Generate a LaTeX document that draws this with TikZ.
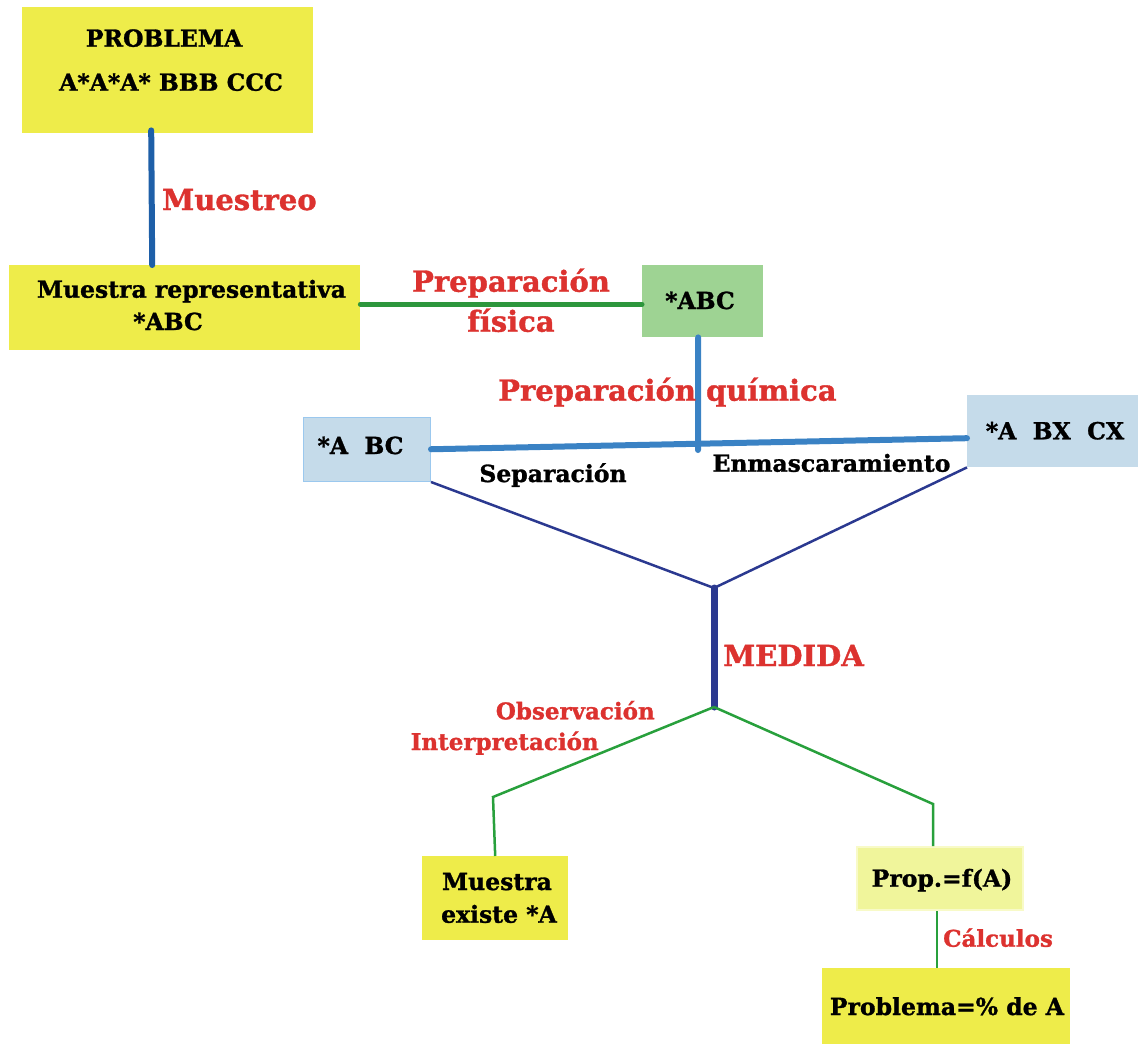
\documentclass[tikz,border=0pt]{standalone}
\usepackage{fontspec}
\setmainfont{DejaVu Serif}[BoldFeatures={FakeBold=1.2}]
\definecolor{cyel}{RGB}{238,236,74}
\definecolor{clightyel}{RGB}{240,245,155}
\definecolor{cpropborder}{RGB}{248,250,200}
\definecolor{cgreenbox}{RGB}{158,211,147}
\definecolor{cbluebox}{RGB}{197,219,234}
\definecolor{cblueborder}{RGB}{155,200,238}
\definecolor{cred}{RGB}{220,50,47}
\definecolor{cblueA}{RGB}{30,95,168}
\definecolor{cblueB}{RGB}{58,130,196}
\definecolor{cgreenA}{RGB}{45,150,60}
\definecolor{cgreenB}{RGB}{40,160,60}
\definecolor{cnavy}{RGB}{43,57,144}
\begin{document}
\begin{tikzpicture}[x=1pt,y=-1pt,
  box/.style={rectangle, inner sep=0pt, anchor=north west},
  blk/.style={inner sep=0pt, anchor=base, text=black, font=\fontsize{23.5}{28}\selectfont\bfseries},
  redbig/.style={inner sep=0pt, anchor=base, text=cred, font=\fontsize{29}{34}\selectfont\bfseries},
  redsmall/.style={inner sep=0pt, anchor=base, text=cred, font=\fontsize{23}{28}\selectfont\bfseries},
  thickline/.style={line width=6pt, line cap=round},
  thinline/.style={line width=2.5pt}
]
\useasboundingbox (0,0) rectangle (1138,1044);

% boxes
\node[box, fill=cyel, minimum width=291pt, minimum height=126pt] (prob) at (22,7) {};
\node[box, fill=cyel, minimum width=351pt, minimum height=85pt] (mr) at (9,265) {};
\node[box, fill=cgreenbox, minimum width=121pt, minimum height=72pt] (abc) at (642,265) {};
\node[box, fill=cbluebox, draw=cblueborder, line width=1.5pt, minimum width=127pt, minimum height=64pt] (abcbc) at (302.5,416.5) {};
\node[box, fill=cbluebox, minimum width=175pt, minimum height=72pt] (abcx) at (967,395) {};
\node[box, fill=cyel, minimum width=146pt, minimum height=84pt] (mex) at (422,856) {};
\node[box, fill=clightyel, draw=cpropborder, line width=2pt, minimum width=166pt, minimum height=63pt] (prop) at (856,846) {};
\node[box, fill=cyel, minimum width=248pt, minimum height=80pt] (pa) at (822,968) {};

% junction coordinates
\coordinate (j1) at (698,450);
\coordinate (m1) at (714,588);
\coordinate (m2) at (714,707);
\coordinate (e1) at (493,797);
\coordinate (e2) at (933,804);

% connectors
\draw[thickline, cblueA] ([xshift=-16.5pt,yshift=3pt]prob.south) -- ([xshift=-32.5pt]mr.north);
\draw[thickline, cgreenA, line width=5pt] ([yshift=3.5pt]mr.east) -- ([yshift=-3pt]abc.west);
\draw[thickline, cblueB] ([xshift=-4.5pt]abc.south) -- (j1);
\draw[thickline, cblueB] (abcbc.east) -- ([yshift=-7pt]abcx.west);
\draw[thinline, cnavy] (abcbc.south east) -- (m1);
\draw[thinline, cnavy] (abcx.south west) -- (m1);
\draw[line width=7pt, line cap=round, cnavy] (m1) -- (m2);
\draw[thinline, cgreenB] (m2) -- (e1) -- (mex.north);
\draw[thinline, cgreenB] (m2) -- (e2) -- (e2 |- prop.north);
\draw[thinline, cgreenB] ([xshift=-3pt]prop.south) -- ([xshift=-3pt]prop.south |- pa.north);

% box texts
\node[blk] (t1) at (164,46.7) {PROBLEMA};
\node[blk] (t2) at (171,90.7) {A*A*A* BBB CCC};
\node[blk] (t3) at (191.5,297.7) {Muestra representativa};
\node[blk] (t4) at (168,330) {*ABC};
\node[blk] (t5) at (700,309) {*ABC};
\node[blk] (t6) at (360.5,454) {*A\ \ BC};
\node[blk] (t7) at (1055,439.3) {*A\ \ BX\ \ CX};
\node[blk] (t8) at (497,890) {Muestra};
\node[blk] (t9) at (499,922.7) {existe *A};
\node[blk] (t10) at (942,886.7) {Prop.=f(A)};
\node[blk] (t11) at (947,1015) {Problema=\% de A};

% connector labels
\node[redbig, anchor=base west] (l1) at (162,210) {Muestreo};
\node[redbig] (l2) at (511,291.7) {Preparación};
\node[redbig] (l3) at (511,331.7) {física};
\node[redbig, anchor=base west] (l4) at (498,400.7) {Preparación química};
\node[blk] (l5) at (553,482) {Separación};
\node[blk] (l6) at (831.5,471.7) {Enmascaramiento};
\node[redbig, anchor=base west] (l7) at (723,666) {MEDIDA};
\node[redsmall] (l8) at (575.3,719.3) {Observación};
\node[redsmall] (l9) at (504.7,750) {Interpretación};
\node[redsmall, anchor=base west] (l10) at (943,946.7) {Cálculos};
\end{tikzpicture}
\end{document}
